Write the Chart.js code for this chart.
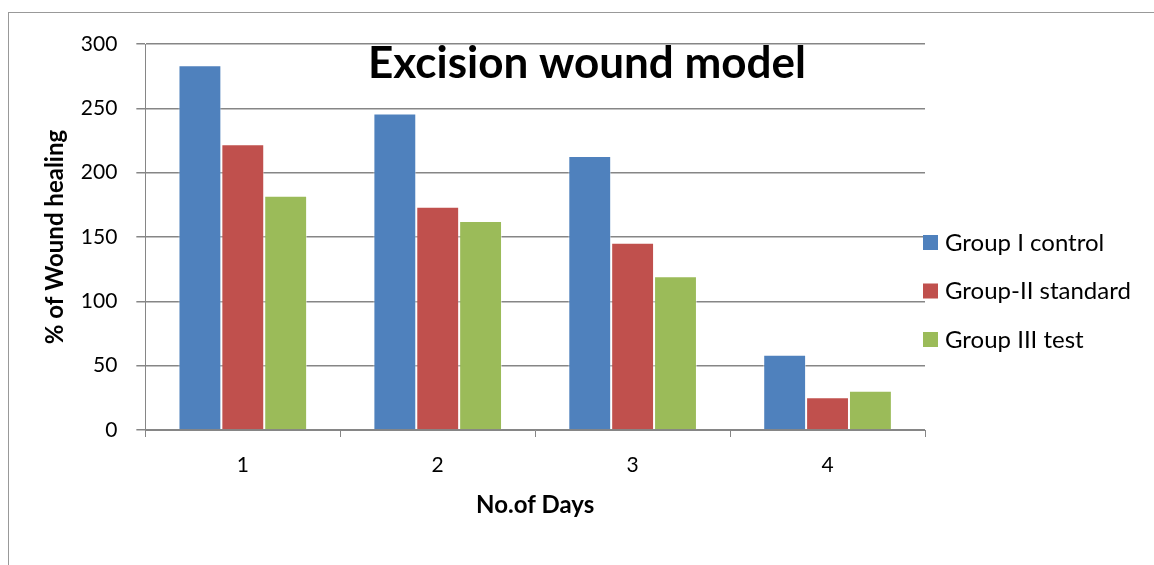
<!DOCTYPE html>
<html>
<head>
<meta charset="utf-8">
<script src="https://cdn.jsdelivr.net/npm/chart.js@4"></script>
<style>
  html, body { margin: 0; padding: 0; background: #fff; }
  #wrap { position: relative; width: 1154px; height: 565px; overflow: hidden; }
  #frame { position: absolute; left: 8px; top: 12px; right: -2px; bottom: -2px;
           border-left: 1px solid #999; border-top: 1px solid #999; pointer-events: none; }
</style>
</head>
<body>
<div id="wrap">
  <canvas id="woundChart" width="1154" height="565"></canvas>
  <div id="frame"></div>
</div>
<script>
const days = ['1', '2', '3', '4'];
const groupControl = [283.5, 246, 213, 58.5];
const groupStandard = [222, 173.5, 145.5, 25.5];
const groupTest = [182, 162.5, 119.5, 30.5];

const chartFont = 'Lato, "Open Sans", sans-serif';

// Title sits inside the plot area, like the spreadsheet original
const insideTitle = {
    id: 'insideTitle',
    afterDraw(chart) {
        const ctx = chart.ctx;
        ctx.save();
        ctx.font = 'bold 44px ' + chartFont;
        ctx.fillStyle = '#000';
        ctx.textAlign = 'center';
        ctx.textBaseline = 'middle';
        ctx.fillText('Excision wound model', 587, 64);
        ctx.restore();
    }
};

// Legend hugging the right edge of the plot, items spaced like the original
const sideLegend = {
    id: 'sideLegend',
    afterDraw(chart) {
        const ctx = chart.ctx;
        const x = chart.chartArea.right - 2;
        ctx.save();
        ctx.font = '24px ' + chartFont;
        ctx.textAlign = 'left';
        ctx.textBaseline = 'middle';
        chart.data.datasets.forEach((ds, i) => {
            const y = 243 + i * 48.5;
            ctx.fillStyle = ds.backgroundColor;
            ctx.fillRect(x, y - 8, 15, 15);
            ctx.fillStyle = '#000';
            ctx.fillText(ds.label, x + 22, y);
        });
        ctx.restore();
    }
};

document.addEventListener('DOMContentLoaded', function () {
    const ctx = document.getElementById('woundChart').getContext('2d');
    new Chart(ctx, {
        type: 'bar',
        data: {
            labels: days,
            datasets: [
                { label: 'Group I control', data: groupControl, backgroundColor: '#4F81BD', borderColor: 'rgba(255,255,255,0.5)', borderWidth: 1 },
                { label: 'Group-II standard', data: groupStandard, backgroundColor: '#C0504D', borderColor: 'rgba(255,255,255,0.5)', borderWidth: 1 },
                { label: 'Group III test', data: groupTest, backgroundColor: '#9BBB59', borderColor: 'rgba(255,255,255,0.5)', borderWidth: 1 }
            ]
        },
        options: {
            responsive: false,
            animation: false,
            layout: { padding: { left: 41, top: 44, right: 229, bottom: 24 } },
            datasets: { bar: { categoryPercentage: 0.66, barPercentage: 1 } },
            scales: {
                x: {
                    grid: { drawOnChartArea: false, drawTicks: true, tickLength: 7, color: '#868686', lineWidth: 1 },
                    border: { color: '#868686', width: 1 },
                    ticks: { color: '#000', font: { family: chartFont, size: 21 }, padding: 16 },
                    title: { display: true, text: 'No.of Days', color: '#000', font: { family: chartFont, size: 24, weight: 'bold' }, padding: { top: -3, bottom: 21 } }
                },
                y: {
                    min: 0,
                    max: 300,
                    ticks: { stepSize: 50, color: '#000', font: { family: chartFont, size: 21 }, padding: 19 },
                    grid: { color: '#868686', lineWidth: 1.5, tickLength: 9 },
                    border: { color: '#868686', width: 1 },
                    title: { display: true, text: '% of Wound healing', color: '#000', font: { family: chartFont, size: 24, weight: 'bold' }, padding: { top: 0, bottom: -8 } }
                }
            },
            plugins: {
                legend: { display: false },
                tooltip: { enabled: false }
            }
        },
        plugins: [insideTitle, sideLegend]
    });
});
</script>
</body>
</html>
